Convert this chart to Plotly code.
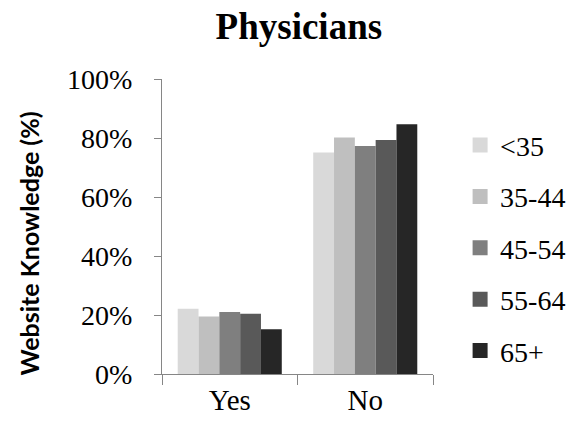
import plotly.graph_objects as go

# Share of physicians who know the website, by age group
categories = ["Yes", "No"]
age_groups = ["<35", "35-44", "45-54", "55-64", "65+"]
values = {
    "<35":   [0.221, 0.751],
    "35-44": [0.195, 0.802],
    "45-54": [0.210, 0.773],
    "55-64": [0.204, 0.793],
    "65+":   [0.152, 0.847],
}
colors = ["#d9d9d9", "#bfbfbf", "#7f7f7f", "#595959", "#262626"]
y_ticks = [0, 0.2, 0.4, 0.6, 0.8, 1.0]

serif = "Liberation Serif"

fig = go.Figure()
for i, (grp, col) in enumerate(zip(age_groups, colors)):
    fig.add_trace(go.Bar(
        x=categories, y=values[grp], name=grp,
        marker=dict(color=col, line=dict(width=0)),
        showlegend=False,
    ))
    # legend entry with a larger square swatch
    fig.add_trace(go.Scatter(
        x=[None], y=[None], mode="markers", name=grp,
        marker=dict(symbol="square", size=15, color=col),
        legendgroup=grp,
    ))

fig.update_layout(
    width=582, height=427,
    margin=dict(l=162, r=149, t=79, b=53, autoexpand=False),
    paper_bgcolor="white", plot_bgcolor="white",
    barmode="group", bargap=0.232, bargroupgap=0,
    title=dict(
        text="<b>Physicians</b>",
        font=dict(family=serif, size=37, color="black"),
        x=0.505, xanchor="center", xref="paper",
        y=1 - 26 / 427, yanchor="middle", yref="container",
    ),
    font=dict(family=serif, size=28, color="black"),
    legend=dict(
        x=1.10, xanchor="left", y=0.86, yanchor="top",
        font=dict(family=serif, size=28, color="black"),
        tracegroupgap=12, itemwidth=30,
        bgcolor="rgba(0,0,0,0)",
    ),
    showlegend=True,
    annotations=[dict(
        text="<b>Website Knowledge (%)</b>",
        font=dict(family="Lato", size=25, color="black"),
        xref="paper", yref="paper",
        x=-0.491, y=0.442, xanchor="center", yanchor="middle",
        textangle=-90, showarrow=False,
    )],
)

fig.update_xaxes(
    type="category", range=[-0.5, 1.5],
    showline=True, linecolor="#868686", linewidth=1,
    ticks="outside", tickson="boundaries", ticklen=10,
    tickcolor="#868686", tickwidth=1,
    showgrid=False, zeroline=False,
    tickfont=dict(family=serif, size=29, color="black"),
)
fig.update_yaxes(
    range=[0, 1], tickvals=y_ticks, tickformat=".0%",
    showline=True, linecolor="#868686", linewidth=1,
    ticks="outside", ticklen=7, tickcolor="#868686", tickwidth=1,
    ticklabelstandoff=16,
    showgrid=False, zeroline=False,
    tickfont=dict(family=serif, size=28, color="black"),
)

fig.write_html("out.html")
